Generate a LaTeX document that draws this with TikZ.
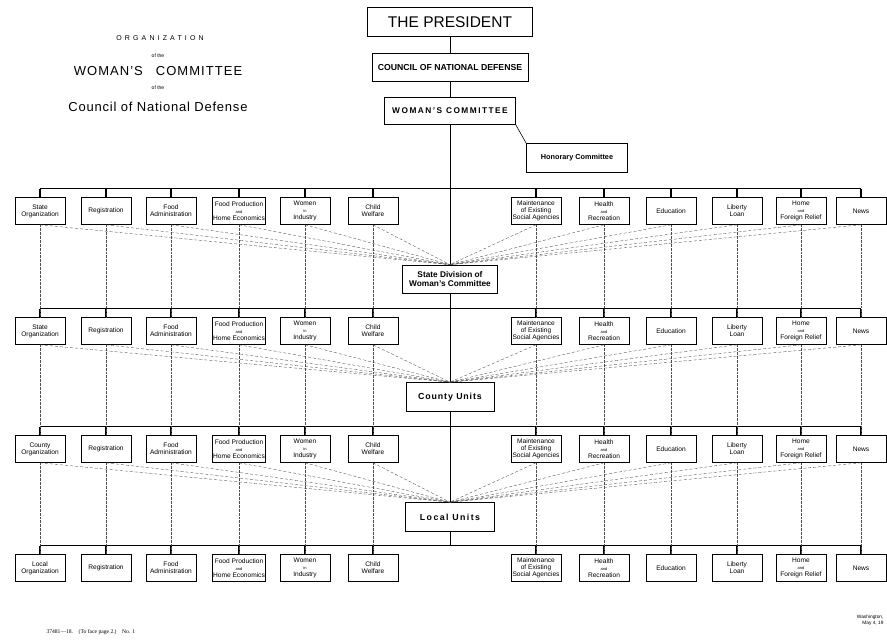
\documentclass[tikz,border=0pt]{standalone}
\usepackage{fontspec}
\setmainfont{Liberation Serif}
\setsansfont{Liberation Sans}

\newcommand\smalland[1]{{\fontsize{4}{4}\selectfont #1}}

\tikzset{
	unitbox/.style={draw, line width=0.7pt, inner sep=1pt, align=center,
		font=\sffamily\bfseries\fontsize{8.3}{9.5}\selectfont},
	deptbox/.style={draw, line width=0.6pt, minimum width=50pt, minimum height=27pt,
		inner sep=0.5pt, align=center, font=\sffamily\fontsize{6.6}{7}\selectfont},
	busln/.style={line width=1.1pt},
	dashln/.style={densely dashed, line width=0.35pt, black!70},
	dotln/.style={densely dotted, line width=0.35pt, black!70}
}

\begin{document}
\begin{tikzpicture}[x=1pt, y=-1pt]

\fill[white] (0,0) rectangle (887,641);
\useasboundingbox (0,0) rectangle (887,641);

% Title
	\node[font=\sffamily\fontsize{7}{7}\selectfont\addfontfeature{LetterSpace=45}] (ttl1) at (160,38) {ORGANIZATION};
	\node[font=\sffamily\fontsize{5}{5}\selectfont] (of1) at (158,56) {of the};
	\node[font=\sffamily\fontsize{13}{13}\selectfont\addfontfeature{LetterSpace=8}] (ttl2) at (158,71) {WOMAN'S\quad COMMITTEE};
	\node[font=\sffamily\fontsize{5}{5}\selectfont] (of2) at (158,88) {of the};
	\node[font=\sffamily\fontsize{13}{13}\selectfont\addfontfeature{LetterSpace=6}] (ttl3) at (158,107) {Council of National Defense};

% Head
	\node[draw, line width=0.8pt, minimum width=165pt, minimum height=29pt,
		font=\sffamily\fontsize{15.5}{15.5}\selectfont] (pres) at (450,22) {THE PRESIDENT};
	\node[unitbox, minimum width=156pt, minimum height=28pt, font=\sffamily\bfseries\fontsize{8.7}{9}\selectfont]
		(cnd) at (450,67) {COUNCIL OF NATIONAL DEFENSE};
	\node[unitbox, minimum width=131pt, minimum height=27pt] (wc) at (450,111)
		{\addfontfeature{LetterSpace=18}WOMAN'S COMMITTEE};
	\node[unitbox, minimum width=101pt, minimum height=29pt,
		font=\sffamily\bfseries\fontsize{7.3}{8}\selectfont] (hon) at (577,158) {Honorary Committee};

	\node[unitbox, minimum width=95pt, minimum height=28pt] (sdiv) at (450,279) {State Division of\\Woman's Committee};
	\node[unitbox, minimum width=88pt, minimum height=29pt, font=\sffamily\bfseries\fontsize{8.8}{9}\selectfont]
		(county) at (450,397) {\addfontfeature{LetterSpace=10}County Units};
	\node[unitbox, minimum width=89pt, minimum height=29pt, font=\sffamily\bfseries\fontsize{8.8}{9}\selectfont]
		(local) at (450,517) {\addfontfeature{LetterSpace=16}Local Units};
	\coordinate (bus4) at (450,546);

	\draw[line width=0.9pt] (pres) -- (cnd);
	\draw[line width=0.9pt] (cnd) -- (wc);
	\draw[line width=0.9pt] (wc) -- (sdiv);
	\draw[line width=0.9pt] (sdiv) -- (county);
	\draw[line width=0.9pt] (county) -- (local);
	\draw[line width=0.9pt] (local) -- (bus4);
	\draw[line width=0.6pt] (wc.south east) -- (hon.north west);

% Departments
	\foreach \r/\y/\first in {1/211/State, 2/331/State, 3/449/County, 4/568/Local}
		\foreach \x/\i/\txt in {40/1/{\first\\Organization}, 106/2/Registration,
			171/3/{Food\\Administration}, 239/4/{Food Production\\\smalland{and}\\Home Economics},
			305/5/{Women\\\smalland{in}\\Industry}, 373/6/{Child\\Welfare},
			536/7/{Maintenance\\of Existing\\Social Agencies}, 604/8/{Health\\\smalland{and}\\Recreation},
			671/9/Education, 737/10/{Liberty\\Loan},
			801/11/{Home\\\smalland{and}\\Foreign Relief}, 861/12/News}
			\node[deptbox] (b\r-\i) at (\x,\y) {\txt};

	\foreach \r in {1, 2, 3, 4} {
		\draw[busln] ([yshift=8.5pt]b\r-1.north) -- ([yshift=8.5pt]b\r-12.north);
		\foreach \i in {1, 2, ..., 12}
			\draw[busln] (b\r-\i.north) -- ++(0,-8.5);
	}

% Dashed lines to the units
	\foreach \r/\u in {1/sdiv, 2/county, 3/local}
		\foreach \i in {1, 2, ..., 12}
			\draw[dashln] (b\r-\i.south) -- (\u.north);

	\foreach \r/\s in {1/2, 2/3, 3/4}
		\foreach \i in {1, 2, ..., 12}
			\draw[dotln] (b\r-\i.south) -- (b\s-\i.north);

% Footnotes
	\node[anchor=west, font=\rmfamily\fontsize{5.6}{5.6}\selectfont] (fn) at (43,632)
		{37481---18.\quad(To face page 2.)\quad No. 1};
	\node[anchor=east, align=right, font=\sffamily\fontsize{4.8}{6}\selectfont] (wash) at (887,620)
		{Washington,\\May 4, 19};
\end{tikzpicture}
\end{document}
